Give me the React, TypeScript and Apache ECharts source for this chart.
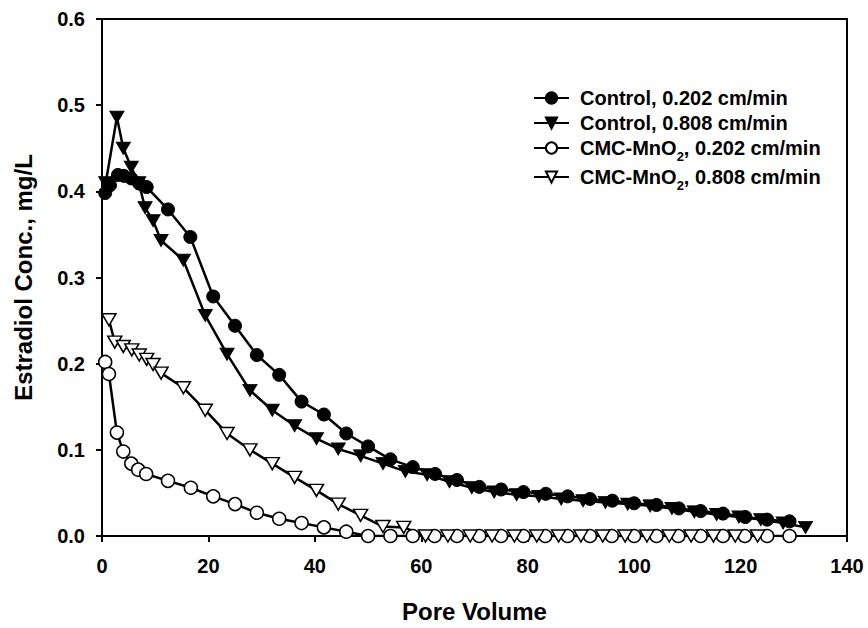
import React, { useEffect, useRef } from 'react';
import * as echarts from 'echarts';

const SERIES_NAMES = [
  'Control, 0.202 cm/min',
  'Control, 0.808 cm/min',
  'CMC-MnO2, 0.202 cm/min',
  'CMC-MnO2, 0.808 cm/min',
];

// [pore volume, concentration mg/L]
const control202: number[][] = [
  [0.6, 0.398], [1.5, 0.407], [3.0, 0.419], [4.1, 0.418], [5.5, 0.415], [7.0, 0.409], [8.4, 0.405],
  [12.4, 0.379], [16.6, 0.347], [20.9, 0.278], [25.0, 0.244], [29.1, 0.21], [33.3, 0.187], [37.5, 0.156],
  [41.7, 0.141], [45.9, 0.119], [50.0, 0.104], [54.2, 0.089], [58.4, 0.08], [62.6, 0.072], [66.7, 0.065],
  [70.9, 0.057], [75.0, 0.054], [79.2, 0.051], [83.4, 0.049], [87.5, 0.046], [91.7, 0.043], [95.9, 0.041],
  [100.0, 0.038], [104.2, 0.036], [108.4, 0.032], [112.5, 0.029], [116.7, 0.026], [120.9, 0.022],
  [125.0, 0.019], [129.2, 0.017],
];

const control808: number[][] = [
  [0.7, 0.41], [2.8, 0.486], [4.0, 0.45], [5.5, 0.428], [6.9, 0.41], [8.1, 0.381], [9.6, 0.366],
  [11.1, 0.343], [15.3, 0.32], [19.4, 0.256], [23.5, 0.211], [27.8, 0.169], [32.0, 0.146], [36.2, 0.128],
  [40.3, 0.113], [44.4, 0.101], [48.6, 0.093], [52.8, 0.084], [57.0, 0.075], [61.1, 0.071], [65.3, 0.063],
  [69.5, 0.056], [73.7, 0.051], [77.9, 0.048], [82.1, 0.046], [86.3, 0.043], [90.4, 0.041], [94.6, 0.039],
  [98.8, 0.037], [103.0, 0.035], [107.1, 0.032], [111.3, 0.028], [115.5, 0.025], [119.7, 0.022],
  [123.8, 0.019], [128.0, 0.015], [132.2, 0.01],
];

const cmc202: number[][] = [
  [0.6, 0.202], [1.3, 0.188], [2.8, 0.12], [4.0, 0.098], [5.5, 0.084], [6.8, 0.077], [8.3, 0.072],
  [12.4, 0.064], [16.7, 0.056], [20.9, 0.046], [25.0, 0.037], [29.1, 0.027], [33.3, 0.02], [37.5, 0.015],
  [41.7, 0.01], [45.9, 0.005], [50.0, 0.0], [54.2, 0.0], [58.4, 0.0], [62.5, 0.0], [66.7, 0.0], [70.9, 0.0],
  [75.0, 0.0], [79.2, 0.0], [83.3, 0.0], [87.5, 0.0], [91.7, 0.0], [95.8, 0.0], [100.0, 0.0], [104.2, 0.0],
  [108.3, 0.0], [112.5, 0.0], [116.7, 0.0], [120.8, 0.0], [125.0, 0.0], [129.2, 0.0],
];

const cmc808: number[][] = [
  [1.3, 0.251], [2.4, 0.225], [4.0, 0.22], [5.6, 0.216], [7.0, 0.21], [8.4, 0.205], [9.6, 0.199],
  [11.1, 0.189], [15.3, 0.172], [19.4, 0.146], [23.5, 0.119], [27.8, 0.1], [32.0, 0.084], [36.2, 0.068],
  [40.3, 0.053], [44.4, 0.037], [48.6, 0.024], [52.8, 0.011], [56.7, 0.01], [60.8, 0.0], [65.0, 0.0],
  [69.2, 0.0], [73.3, 0.0], [77.5, 0.0], [81.7, 0.0], [85.8, 0.0], [90.0, 0.0], [94.1, 0.0], [98.3, 0.0],
  [102.4, 0.0], [106.6, 0.0], [110.7, 0.0], [114.9, 0.0], [119.0, 0.0], [123.2, 0.0],
];

const X_MIN = 0, X_MAX = 140, X_STEP = 20;
const Y_MIN = 0, Y_MAX = 0.6, Y_STEP = 0.1;
const X_TITLE = 'Pore Volume';
const Y_TITLE = 'Estradiol Conc., mg/L';

const FONT = "'Liberation Sans', Arial, Helvetica, sans-serif";

export default function App() {
  const ref = useRef<HTMLDivElement>(null);
  useEffect(() => {
    document.body.style.margin = '0';
    const chart = echarts.init(ref.current!, undefined, { renderer: 'svg' });

    const baseLine = { color: '#000', width: 2.5 };
    const mk = (name: string, data: number[][], symbol: string, filled: boolean) => ({
      name,
      type: 'line',
      data,
      symbol,
      symbolRotate: symbol === 'triangle' ? 180 : 0,
      symbolSize: symbol === 'triangle' ? [14, 12] : 13,
      showSymbol: true,
      lineStyle: baseLine,
      itemStyle: {
        color: filled ? '#000' : '#fff',
        borderColor: '#000',
        borderWidth: filled ? 1 : 1.5,
      },
      emphasis: { disabled: true },
      z: 2,
    });

    const textBase = { fontSize: 20, fontWeight: 'bold', fontFamily: FONT, color: '#000' };
    const legendTops = [88, 113, 138, 167];
    const legends = SERIES_NAMES.map((n, i) => ({
      show: true,
      data: [n],
      orient: 'vertical',
      left: 533,
      top: legendTops[i],
      padding: 0,
      itemWidth: 35,
      itemHeight: 14,
      selectedMode: false,
      formatter: (name: string) =>
        name.indexOf('MnO2') >= 0
          ? '{t|CMC-MnO}{s|2}{t|' + name.replace('CMC-MnO2', '') + '}'
          : '{t|' + name + '}',
      textStyle: {
        ...textBase,
        padding: [0, 0, 0, 6],
        rich: {
          t: { ...textBase, lineHeight: 20, verticalAlign: 'top' },
          s: { ...textBase, fontSize: 13, lineHeight: 13, padding: [12, 0, 0, 0], verticalAlign: 'top' },
        },
      },
    }));

    const option: any = {
      animation: false,
      backgroundColor: '#fff',
      grid: {
        left: 102, right: 21, top: 19, bottom: 86,
        show: true, borderColor: '#000', borderWidth: 2, containLabel: false,
      },
      legend: legends,
      xAxis: {
        type: 'value', min: X_MIN, max: X_MAX, interval: X_STEP,
        axisLine: { show: true, lineStyle: { color: '#000', width: 2 } },
        axisTick: { show: true, inside: false, length: 6, lineStyle: { color: '#000', width: 2 } },
        axisLabel: { ...textBase, margin: 20 },
        splitLine: { show: false },
        name: X_TITLE, nameLocation: 'middle', nameGap: 63,
        nameTextStyle: { ...textBase, fontSize: 24 },
      },
      yAxis: {
        type: 'value', min: Y_MIN, max: Y_MAX, interval: Y_STEP,
        axisLine: { show: true, lineStyle: { color: '#000', width: 2 } },
        axisTick: { show: true, inside: false, length: 6, lineStyle: { color: '#000', width: 2 } },
        axisLabel: { ...textBase, margin: 17, formatter: (v: number) => v.toFixed(1) },
        splitLine: { show: false },
        name: Y_TITLE, nameLocation: 'middle', nameGap: 67,
        nameTextStyle: { ...textBase, fontSize: 24 },
      },
      series: [
        mk(SERIES_NAMES[0], control202, 'circle', true),
        mk(SERIES_NAMES[1], control808, 'triangle', true),
        mk(SERIES_NAMES[2], cmc202, 'circle', false),
        mk(SERIES_NAMES[3], cmc808, 'triangle', false),
      ],
    };
    chart.setOption(option);
    return () => chart.dispose();
  }, []);
  return <div ref={ref} style={{ width: 868, height: 628 }} />;
}
